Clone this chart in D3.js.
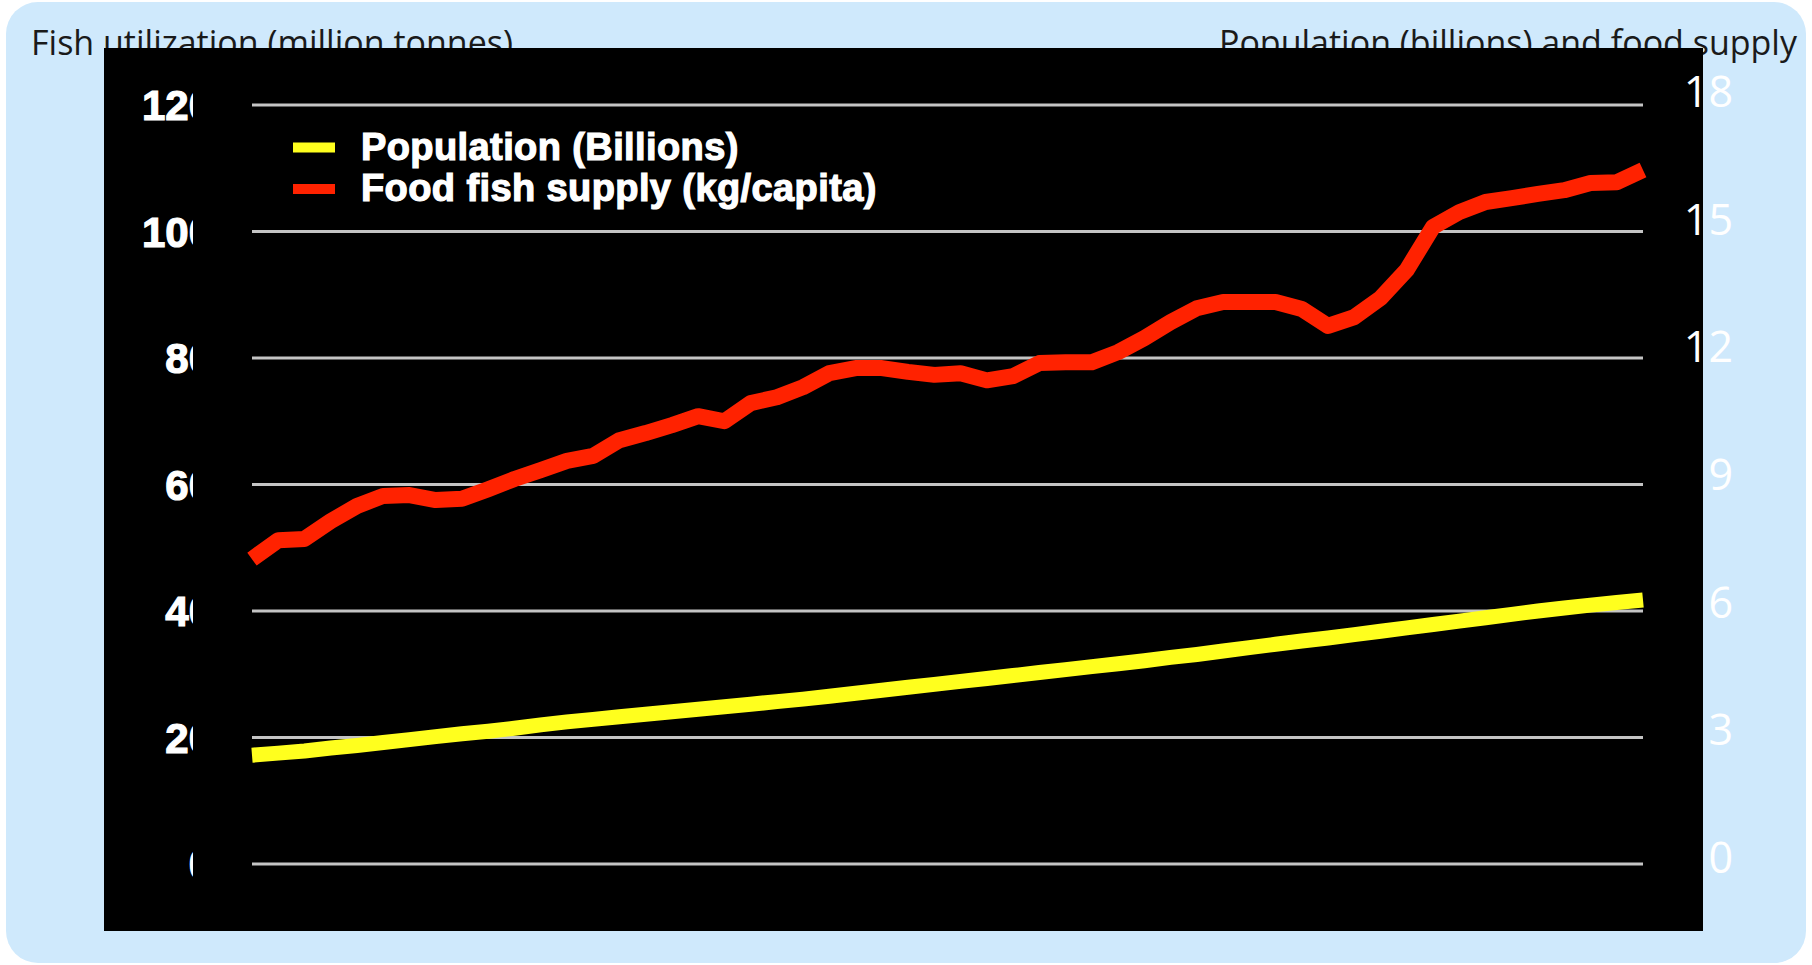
<!DOCTYPE html>
<html><head><meta charset="utf-8">
<script src="https://cdn.jsdelivr.net/npm/d3@7"></script>
<style>html,body{margin:0;padding:0;background:#fff;overflow:hidden}</style>
</head><body><svg id="c" width="1812" height="965"></svg>
<script>
const years = [1950,1951,1952,1953,1954,1955,1956,1957,1958,1959,1960,1961,1962,1963,1964,1965,1966,1967,1968,1969,1970,1971,1972,1973,1974,1975,1976,1977,1978,1979,1980,1981,1982,1983,1984,1985,1986,1987,1988,1989,1990,1991,1992,1993,1994,1995,1996,1997,1998,1999,2000,2001,2002,2003];
const population = [2.58,2.63,2.68,2.75,2.81,2.88,2.95,3.02,3.09,3.15,3.22,3.30,3.37,3.43,3.49,3.55,3.61,3.67,3.73,3.79,3.85,3.91,3.98,4.05,4.12,4.19,4.26,4.33,4.40,4.47,4.54,4.61,4.68,4.75,4.82,4.90,4.97,5.05,5.13,5.21,5.29,5.36,5.44,5.52,5.60,5.68,5.76,5.84,5.92,6.00,6.07,6.14,6.20,6.26];
const fishSupply = [7.23,7.68,7.71,8.13,8.49,8.73,8.75,8.63,8.66,8.89,9.13,9.34,9.56,9.68,10.05,10.22,10.41,10.62,10.50,10.93,11.07,11.31,11.64,11.76,11.76,11.67,11.60,11.64,11.47,11.57,11.88,11.90,11.90,12.14,12.47,12.85,13.18,13.33,13.33,13.33,13.16,12.76,12.97,13.42,14.09,15.11,15.46,15.70,15.79,15.89,15.98,16.15,16.17,16.46];
const leftTicks = [0,20,40,60,80,100,120];
const rightTicks = [0,3,6,9,12,15,18];
const legendLabels = ["Population (Billions)", "Food fish supply (kg/capita)"];
const leftTitle = "Fish utilization (million tonnes)";
const rightTitle = "Population (billions) and food supply";

const svg = d3.select("#c");

// background card
svg.append("rect").attr("x",6).attr("y",2).attr("width",1800).attr("height",961)
  .attr("rx",32).attr("ry",32).attr("fill","#cfe9fc");

// titles
const tfont = "'Open Sans', 'Noto Sans', sans-serif";
svg.append("text").attr("x",31).attr("y",55).attr("font-family",tfont).attr("font-size",34)
  .attr("fill","#1a1a1a").text(leftTitle);
svg.append("text").attr("x",1797).attr("y",55).attr("text-anchor","end").attr("font-family",tfont).attr("font-size",34)
  .attr("fill","#1a1a1a").text(rightTitle);

// black chart panel
svg.append("rect").attr("x",104).attr("y",48).attr("width",1599).attr("height",883).attr("fill","#000");

const x = d3.scaleLinear().domain([years[0], years[years.length-1]]).range([252,1643]);
const yLeft = d3.scaleLinear().domain([0,120]).range([864,105]);
const yRight = d3.scaleLinear().domain([0,18]).range([864,105]);
const yRightLabel = d3.scaleLinear().domain([0,18]).range([873,107]);

// gridlines
svg.append("g").selectAll("line").data(leftTicks).join("line")
  .attr("x1",252).attr("x2",1643)
  .attr("y1",d=>yLeft(d)).attr("y2",d=>yLeft(d))
  .attr("stroke","#c4c4c4").attr("stroke-width",3);

// left labels (clipped)
svg.append("defs").append("clipPath").attr("id","lclip")
  .append("rect").attr("x",104).attr("y",48).attr("width",89).attr("height",883);
svg.append("g").attr("clip-path","url(#lclip)").selectAll("text").data(leftTicks).join("text")
  .attr("x",212).attr("y",d=>yLeft(d)).attr("dy","0.36em").attr("text-anchor","end")
  .attr("font-family","'Liberation Sans', Arial, sans-serif").attr("font-weight","bold")
  .attr("font-size",42).attr("fill","#fff").attr("stroke","#fff").attr("stroke-width",1.2).text(d=>d);

// lines
const line = d3.line().x((d,i)=>x(years[i])).y(d=>yRight(d));
svg.append("path").datum(population).attr("d",line).attr("fill","none")
  .attr("stroke","#ffff1e").attr("stroke-width",15).attr("stroke-linejoin","round");
svg.append("path").datum(fishSupply).attr("d",line).attr("fill","none")
  .attr("stroke","#ff2200").attr("stroke-width",16).attr("stroke-linejoin","round");

// legend
const legColors = ["#ffff1e","#ff2200"];
const legY = [147.5, 189];
const lg = svg.append("g");
legendLabels.forEach((t,i)=>{
  lg.append("line").attr("x1",293).attr("x2",335).attr("y1",legY[i]).attr("y2",legY[i])
    .attr("stroke",legColors[i]).attr("stroke-width",10);
  lg.append("text").attr("x",361).attr("y",legY[i]+12)
    .attr("font-family","'Liberation Sans', Arial, sans-serif").attr("font-weight","bold")
    .attr("font-size",38).attr("letter-spacing",0.4).attr("fill","#fff")
    .attr("stroke","#fff").attr("stroke-width",1.2).text(t);
});

// right labels
svg.append("g").selectAll("text").data(rightTicks).join("text")
  .attr("x",1733).attr("y",d=>yRightLabel(d)).attr("text-anchor","end")
  .attr("font-family",tfont).attr("font-size",43).attr("fill","#fff").text(d=>d);
</script>
</body></html>
